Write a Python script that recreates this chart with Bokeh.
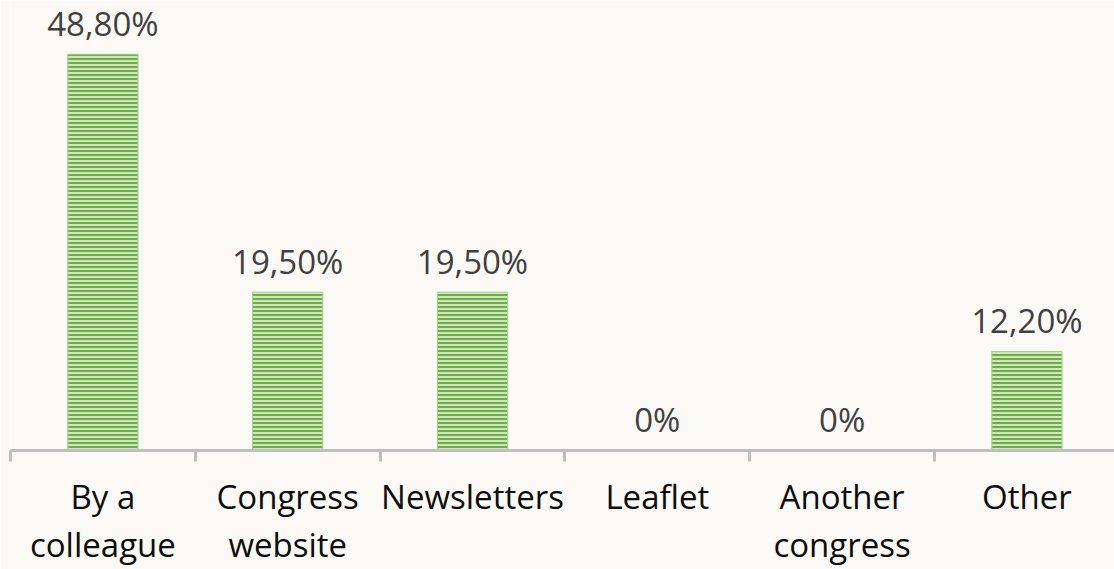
from bokeh.plotting import figure
from bokeh.models import Range1d, FixedTicker, ColumnDataSource
from bokeh.core.properties import value
from bokeh.embed import file_html
from bokeh.resources import INLINE

categories = ["By a\ncolleague", "Congress\nwebsite", "Newsletters", "Leaflet", "Another\ncongress", "Other"]
values = [48.8, 19.5, 19.5, 0.0, 0.0, 12.2]

def fmt(v):
    if v == 0:
        return "0%"
    return f"{v:.2f}".replace(".", ",") + "%"

labels = [fmt(v) for v in values]
n = len(categories)
centers = [i + 0.5 for i in range(n)]
bounds = list(range(n + 1))

BG = "#FAF9F5"
FONT = "Open Sans"

W, H = 1114, 569
left = 10
bottom = 117
cat_px = 184.8
px_per_unit = 8.156
frame_h = H - bottom

p = figure(width=W, height=H, output_backend="svg", toolbar_location=None,
           x_range=Range1d(0, (W - left) / cat_px), y_range=Range1d(0, frame_h / px_per_unit),
           min_border_left=left, min_border_right=0, min_border_top=0, min_border_bottom=bottom,
           background_fill_color=BG, border_fill_color=BG, outline_line_color=None)

src = ColumnDataSource(dict(x=centers, top=values, label=labels))
p.vbar(x="x", top="top", width=0.38, source=src,
       fill_color="#CFE5C0", line_color="#A6CF8A", line_width=1,
       hatch_pattern="horizontal_line", hatch_color="#70AD47", hatch_scale=4, hatch_weight=2)

p.text(x="x", y="top", text="label", source=src, text_font=value(FONT), text_font_size="33px",
       text_color="#404040", text_align="center", text_baseline="alphabetic", y_offset=-31)

p.ygrid.visible = False
p.xgrid.visible = False
p.yaxis.visible = False

ax = p.xaxis[0]
ax.ticker = FixedTicker(ticks=centers, minor_ticks=bounds)
ax.major_label_overrides = {c: lab for c, lab in zip(centers, categories)}
ax.major_tick_out = 0
ax.major_tick_in = 0
ax.minor_tick_out = 11
ax.minor_tick_in = 0
ax.minor_tick_line_width = 3
ax.minor_tick_line_color = "#BFBFBF"
ax.axis_line_color = "#BFBFBF"
ax.axis_line_width = 3
ax.major_label_text_font = FONT
ax.major_label_text_font_size = "33px"
ax.major_label_text_color = "#0D0D0D"
ax.major_label_text_line_height = 1.07
ax.major_label_standoff = 12

html = file_html(p, INLINE)
html = html.replace("<body>", '<body style="background-color:%s;">' % BG, 1)
open("out.html", "w").write(html)
